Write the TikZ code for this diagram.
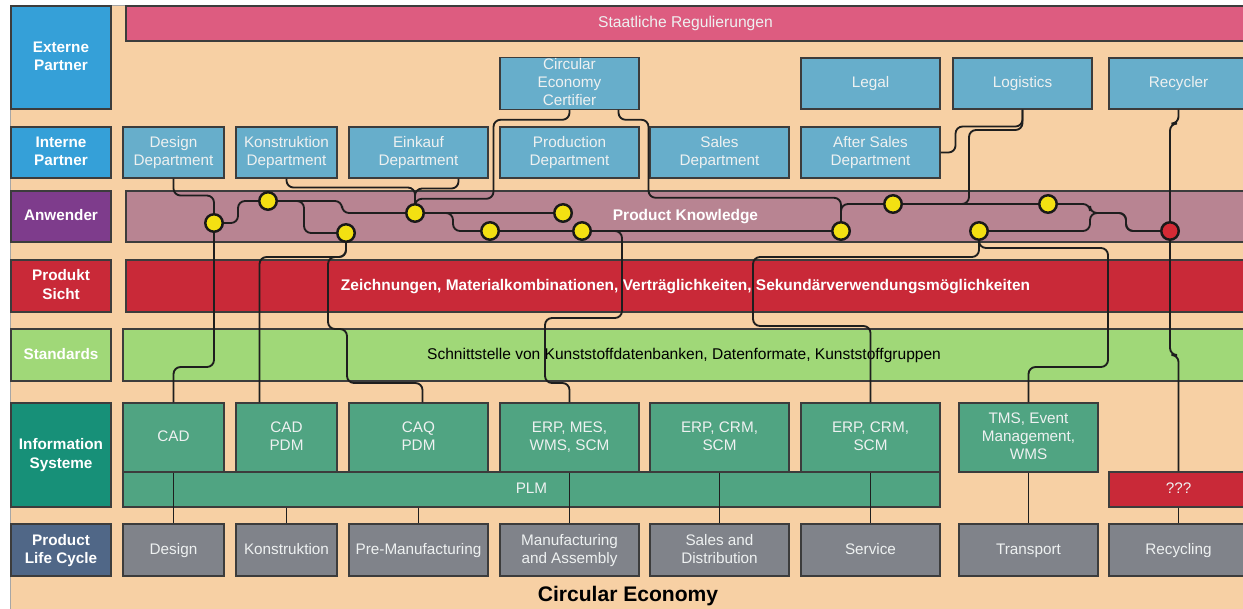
\documentclass[tikz,border=0pt]{standalone}
\usepackage{fontspec}
\setmainfont{Liberation Sans}
\usetikzlibrary{calc}
\pgfdeclarelayer{fg}
\pgfsetlayers{main,fg}
\definecolor{peach}{HTML}{F7D0A4}
\definecolor{extblue}{HTML}{35A0D8}
\definecolor{partnerblue}{HTML}{67AECB}
\definecolor{regpink}{HTML}{DD5C80}
\definecolor{anwpurple}{HTML}{7E3C8C}
\definecolor{anwmauve}{HTML}{B88492}
\definecolor{prodred}{HTML}{C92938}
\definecolor{stdgreen}{HTML}{A0D878}
\definecolor{isteal}{HTML}{179078}
\definecolor{isgreen}{HTML}{50A482}
\definecolor{plcslate}{HTML}{506787}
\definecolor{plcgray}{HTML}{80838A}
\definecolor{boxline}{HTML}{3C3C3C}
\definecolor{boxtext}{HTML}{EEF1F1}
\definecolor{linecol}{HTML}{1E1E1E}
\definecolor{dotyellow}{HTML}{F3E012}
\definecolor{dotred}{HTML}{D42A35}
\newcommand{\hstrut}{\rule{0pt}{6.6pt}}
\newcommand{\dstrut}{\rule[-1.9pt]{0pt}{1.9pt}}
\newcommand{\mkbox}[7]{\node[#6, minimum width={(#4-#2)*0.02cm}, minimum height={(#5-#3)*0.02cm}] (#1) at ({(#2+#4)/2},{(#3+#5)/2}) {\hstrut#7\dstrut};}
\tikzset{
  bx/.style={draw=boxline, line width=0.6pt, inner sep=0pt, align=center, text=boxtext, font=\fontsize{8.7}{10.4}\selectfont},
  lbl/.style={bx, text=white, font=\fontsize{8.7}{10.4}\selectfont\bfseries},
  partner/.style={bx, fill=partnerblue},
  isbox/.style={bx, fill=isgreen},
  plcbox/.style={bx, fill=plcgray},
  conn/.style={draw=linecol, line width=1.05pt, rounded corners=4pt},
  dotnode/.style={circle, minimum size=0.35cm, inner sep=0pt, fill=dotyellow, draw=black!90, line width=1.4pt},
}
\begin{document}
\begin{tikzpicture}[x=0.02cm, y=-0.02cm]
\useasboundingbox (0,0) rectangle (1243,608);
\clip (0,0) rectangle (1243,608);
\fill[white] (0,0) rectangle (1243,608);
\filldraw[fill=peach, draw=gray!70, line width=0.5pt] (10.5,5.5) rectangle (1250,620);

% left labels
\mkbox{lExt}{11}{6}{111}{109}{lbl, fill=extblue}{Externe\\Partner}
\mkbox{lInt}{11}{127}{111}{178}{lbl, fill=extblue}{Interne\\Partner}
\mkbox{lAnw}{11}{191}{111}{242}{lbl, fill=anwpurple}{Anwender}
\mkbox{lProd}{11}{260}{111}{312}{lbl, fill=prodred}{Produkt\\Sicht}
\mkbox{lStd}{11}{329}{111}{381}{lbl, fill=stdgreen}{Standards}
\mkbox{lIS}{11}{403}{111}{507}{lbl, fill=isteal}{Information\\Systeme}
\mkbox{lPLC}{11}{524}{111}{576}{lbl, fill=plcslate}{Product\\Life Cycle}

% bars
\mkbox{reg}{126}{6}{1245}{41}{bx, fill=regpink, font=\fontsize{8.9}{10.6}\selectfont}{Staatliche Regulierungen}
\mkbox{pk}{126}{191}{1245}{242}{bx, fill=anwmauve, text=white, font=\fontsize{8.8}{10.4}\selectfont\bfseries}{Product Knowledge}
\mkbox{ps}{126}{260}{1245}{312}{bx, fill=prodred, text=white, font=\fontsize{8.8}{10.4}\selectfont\bfseries}{Zeichnungen, Materialkombinationen, Verträglichkeiten, Sekundärverwendungsmöglichkeiten}
\mkbox{std}{123}{329}{1245}{381}{bx, fill=stdgreen, text=black, font=\fontsize{8.85}{10.4}\selectfont}{Schnittstelle von Kunststoffdatenbanken, Datenformate, Kunststoffgruppen}
\mkbox{plm}{123}{472}{940}{507}{isbox}{PLM}
\mkbox{qqq}{1109}{472}{1248}{507}{bx, fill=prodred}{???}

% externe partner
\mkbox{cert}{500}{58}{639}{109}{partner}{Circular\\Economy\\Certifier}
\mkbox{legal}{801}{58}{940}{109}{partner}{Legal}
\mkbox{logi}{953}{58}{1092}{109}{partner}{Logistics}
\mkbox{recy}{1109}{58}{1248}{109}{partner}{Recycler}

% interne partner
\mkbox{dDes}{123}{127}{224}{178}{partner}{Design\\Department}
\mkbox{dKon}{236}{127}{337}{178}{partner}{Konstruktion\\Department}
\mkbox{dEin}{349}{127}{488}{178}{partner}{Einkauf\\Department}
\mkbox{dPro}{500}{127}{639}{178}{partner}{Production\\Department}
\mkbox{dSal}{650}{127}{789}{178}{partner}{Sales\\Department}
\mkbox{dAft}{801}{127}{940}{178}{partner}{After Sales\\Department}

% information systems
\mkbox{isCAD}{123}{403}{224}{472}{isbox}{CAD}
\mkbox{isCADPDM}{236}{403}{337}{472}{isbox}{CAD\\PDM}
\mkbox{isCAQ}{349}{403}{488}{472}{isbox}{CAQ\\PDM}
\mkbox{isERP1}{500}{403}{639}{472}{isbox}{ERP, MES,\\WMS, SCM}
\mkbox{isERP2}{650}{403}{789}{472}{isbox}{ERP, CRM,\\SCM}
\mkbox{isERP3}{801}{403}{940}{472}{isbox}{ERP, CRM,\\SCM}
\mkbox{isTMS}{959}{403}{1098}{472}{isbox}{TMS, Event\\Management,\\WMS}

% product life cycle
\mkbox{pDes}{123}{524}{224}{576}{plcbox}{Design}
\mkbox{pKon}{236}{524}{337}{576}{plcbox}{Konstruktion}
\mkbox{pPre}{349}{524}{488}{576}{plcbox}{Pre-Manufacturing}
\mkbox{pMan}{500}{524}{639}{576}{plcbox}{Manufacturing\\and Assembly}
\mkbox{pSal}{650}{524}{789}{576}{plcbox}{Sales and\\Distribution}
\mkbox{pSer}{801}{524}{940}{576}{plcbox}{Service}
\mkbox{pTra}{959}{524}{1098}{576}{plcbox}{Transport}
\mkbox{pRec}{1109}{524}{1248}{576}{plcbox}{Recycling}

\node[font=\fontsize{12}{14}\selectfont\bfseries, text=black] (ce) at (628,596) {Circular Economy};

% dots
\begin{pgfonlayer}{fg}
\node[dotnode] (nA) at (214,223) {};
\node[dotnode] (nB) at (268,201) {};
\node[dotnode] (nC) at (346,233) {};
\node[dotnode] (nD) at (415,213) {};
\node[dotnode] (nE) at (563,213) {};
\node[dotnode] (nF) at (490,231) {};
\node[dotnode] (nG) at (582,231) {};
\node[dotnode] (nH) at (841,231) {};
\node[dotnode] (nI) at (893,204) {};
\node[dotnode] (nJ) at (1048,204) {};
\node[dotnode] (nK) at (979,231) {};
\node[dotnode, fill=dotred] (nL) at (1170,231) {};
\end{pgfonlayer}

% connectors
\draw[conn] (dDes.south) -- ++(0,17) -| (nA);
\draw[conn] (nA) -- ++(0,144) -| (isCAD.north);
\draw[conn] (nA) -- ++(24,0) |- (nB);
\draw[conn] (nB) -- ++(36,0) |- (nC);
\draw[conn] (nB) -- ++(74,0) |- (nD);
\draw[conn] (dKon.south) -- ++(0,9) -| (nD);
\draw[conn] ($(dEin.south)+(40,0)$) -- ++(0,10) -| (nD);
\draw[conn] (cert.south) -- ++(0,10) -- ++(-76,0) -- ++(0,79) -| (nD);
\draw[conn] (nD) -- (nE);
\draw[conn] (nD) -- ++(38,0) |- (nF);
\draw[conn] (nF) -- (nG);
\draw[conn] (nG) -- (nH);
\draw[conn] (nG) -- ++(40,0) -- ++(0,87) -- ++(-77,0) -- ++(0,65) -| (isERP1.north);
\draw[conn] (nC) -- ++(0,24) -| ($(isCADPDM.north)+(-27,0)$);
\draw[conn] (nC) -- ++(0,24) -- ++(-18,0) -- ++(0,72) -- ++(19,0) -- ++(0,54) -| ($(isCAQ.north)+(4,0)$);
\draw[conn] ($(cert.south)+(49,0)$) -- ++(0,10) -- ++(30,0) -- ++(0,78) -| (nH);
\draw[conn] (nH) |- (nI);
\draw[conn] (nI) -- (nJ);
\draw[conn] (nI) -- ++(76,0) -- ++(0,-74) -| (logi.south);
\draw[conn] (dAft.east) -- ++(15,0) -- ++(0,-26) -| (logi.south);
\draw[conn] (nJ) -- ++(42,0) -- ++(0,9) -- ++(36,0) |- (nL);
\draw[conn] (nK) -- ++(111,0) -- ++(0,-18) -- ++(36,0) |- (nL);
\draw[conn] (recy.south) -- ++(0,14) -| (nL);
\draw[conn] (nL) -- ++(0,124) -| (qqq.north);
\draw[conn] (qqq.south) -- (pRec.north);
\draw[conn] (nK) -- ++(0,17) -- ++(129,0) -- ++(0,119) -| (isTMS.north);
\draw[conn] (nK) -- ++(0,26) -- ++(-226,0) -- ++(0,69) -| (isERP3.north);

% information systems to life cycle
\draw[conn] (isCAD.south) -- (pDes.north);
\draw[conn] (pKon.north |- plm.south) -- (pKon.north);
\draw[conn] (pPre.north |- plm.south) -- (pPre.north);
\draw[conn] (isERP1.south) -- (pMan.north);
\draw[conn] (isERP2.south) -- (pSal.north);
\draw[conn] (isERP3.south) -- (pSer.north);
\draw[conn] (isTMS.south) -- (pTra.north);
\end{tikzpicture}
\end{document}
